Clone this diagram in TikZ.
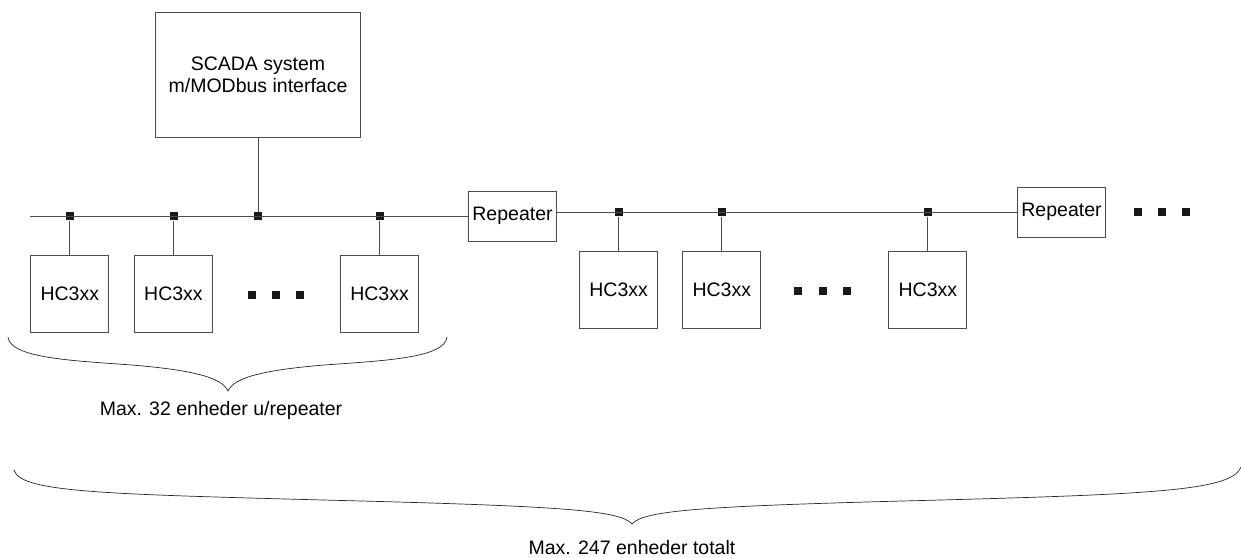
\documentclass[tikz,border=0pt]{standalone}
\usepackage{fontspec}
\setmainfont{Liberation Sans}
\usetikzlibrary{calc}
\tikzstyle{enhed} = [rectangle, draw=black!70, line width=1pt, minimum width=78pt, minimum height=77pt, inner sep=0pt, font=\fontsize{19.5}{22}\selectfont]
\tikzstyle{repeater} = [rectangle, draw=black!70, line width=1pt, minimum width=88pt, minimum height=50pt, inner sep=0pt, font=\fontsize{19.5}{22}\selectfont]
\tikzstyle{punkt} = [rectangle, fill=black!90, minimum size=8pt, inner sep=0pt]
\tikzstyle{tekst} = [inner sep=0pt, font=\fontsize{19.5}{22}\selectfont]

\begin{document}
\begin{tikzpicture}[x=1pt, y=-1pt, line width=1pt, draw=black!70]
    \useasboundingbox (0,0) rectangle (1241,557);

    \node (scada) [rectangle, draw=black!70, minimum width=205pt, minimum height=125pt, inner sep=0pt, align=center, font=\fontsize{19.5}{22}\selectfont] at (258,74.5) {SCADA system\\m/MODbus interface};

    % forste segment
    \coordinate (start) at (30,216);
    \node (rep1) [repeater] at (512.5,216) {Repeater};
    \node (hc1) [enhed] at (69.8,293.5) {HC3xx};
    \node (hc2) [enhed] at (173.5,293.5) {HC3xx};
    \node (hc3) [enhed] at (379.5,293.5) {HC3xx};
    \node (p1) [punkt] at (hc1 |- start) {};
    \node (p2) [punkt] at (hc2 |- start) {};
    \node (p3) [punkt] at (scada |- start) {};
    \node (p4) [punkt] at (hc3 |- start) {};
    \node (d1) [punkt] at (252,295) {};
    \node (d2) [punkt] at (276,295) {};
    \node (d3) [punkt] at (300,295) {};

    % andet segment
    \node (rep2) [repeater] at (1061.5,212) {Repeater};
    \node (hc4) [enhed] at (618.6,290) {HC3xx};
    \node (hc5) [enhed] at (721.8,290) {HC3xx};
    \node (hc6) [enhed] at (927.9,290) {HC3xx};
    \node (p5) [punkt] at (hc4 |- rep2) {};
    \node (p6) [punkt] at (hc5 |- rep2) {};
    \node (p7) [punkt] at (hc6 |- rep2) {};
    \node (d4) [punkt] at (798,291) {};
    \node (d5) [punkt] at (822.5,291) {};
    \node (d6) [punkt] at (847,291) {};
    \node (d7) [punkt] at (1138,212) {};
    \node (d8) [punkt] at (1162,212) {};
    \node (d9) [punkt] at (1186,212) {};

    \draw (start) -- (rep1);
    \draw (rep1.east |- rep2) -- (rep2);
    \draw (scada) -- (p3);
    \draw (p1) -- (hc1);
    \draw (p2) -- (hc2);
    \draw (p4) -- (hc3);
    \draw (p5) -- (hc4);
    \draw (p6) -- (hc5);
    \draw (p7) -- (hc6);

    % klammer
    \node (tekst1) [tekst] at (221,410) {Max. 32 enheder u/repeater};
    \node (tekst2) [tekst] at (632,548) {Max. 247 enheder totalt};
    \draw[line width=0.7pt, black!85] (8,337) .. controls (10,356) and (60,360) .. (118,364) .. controls (190,369) and (222,377) .. (228,391)
        .. controls (234,377) and (266,369) .. (338,364) .. controls (396,360) and (445,356) .. (447,337);
    \draw[line width=0.7pt, black!85] (14,470) .. controls (20,492) and (100,494) .. (323,500) .. controls (560,506) and (620,510) .. (632,524)
        .. controls (644,510) and (704,506) .. (941,500) .. controls (1160,494) and (1232,490) .. (1241,467);
\end{tikzpicture}
\end{document}
